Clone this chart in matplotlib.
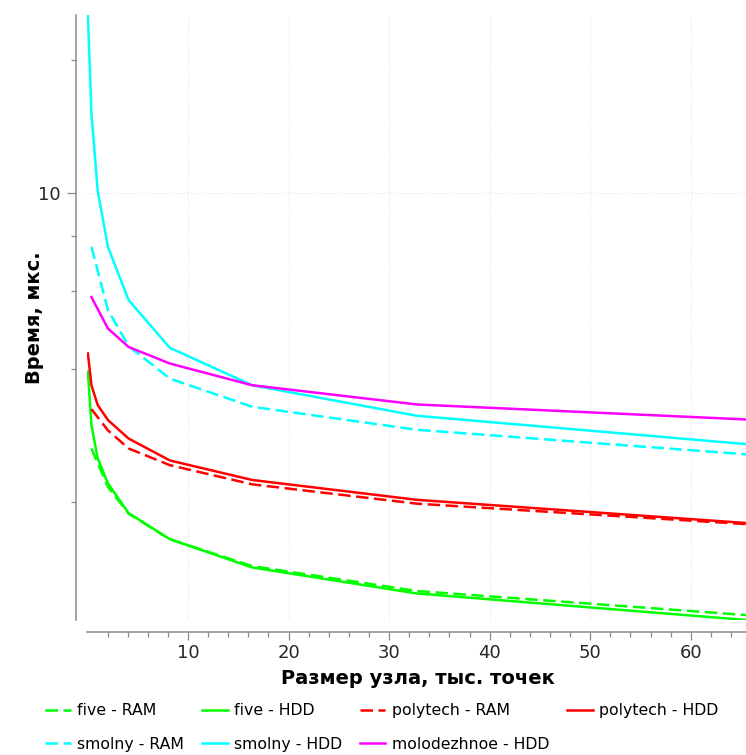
import matplotlib
matplotlib.use("Agg")
import matplotlib.pyplot as plt
from matplotlib.ticker import FixedLocator, NullFormatter, FixedFormatter

# ---- data (thousands of points vs. time in microseconds) ----
x_hdd = [0.05, 0.4, 1.024, 2.048, 4.096, 8.192, 16.384, 32.768, 65.536]
x_ram = [0.4, 2.048, 4.096, 8.192, 16.384, 32.768, 65.536]

five_ram = [2.64, 2.16, 1.88, 1.645, 1.43, 1.256, 1.108]
five_hdd = [3.94, 2.98, 2.51, 2.20, 1.885, 1.646, 1.42, 1.24, 1.08]
polytech_ram = [3.24, 2.90, 2.64, 2.42, 2.19, 1.98, 1.78]
polytech_hdd = [4.33, 3.67, 3.31, 3.06, 2.78, 2.48, 2.24, 2.02, 1.79]
smolny_ram = [7.55, 5.43, 4.50, 3.80, 3.28, 2.91, 2.56]
smolny_hdd = [25.2, 15.15, 10.1, 7.54, 5.72, 4.46, 3.67, 3.13, 2.70]
molodezhnoe_hdd = [5.81, 4.93, 4.48, 4.11, 3.67, 3.32, 3.07]

x_major = [10, 20, 30, 40, 50, 60]
x_minor = [v for v in range(2, 66, 2) if v % 10 != 0]
y_major = [10]
y_major_labels = ["10"]
y_minor = [2, 4, 6, 8, 20]

W, H = 746, 755
fig = plt.figure(figsize=(W / 100, H / 100), dpi=100)
left, right, top, bottom = 87.4, 746.5, 15, 620
ax = fig.add_axes([left / W, 1 - bottom / H, (right - left) / W, (bottom - top) / H])

LW = 1.8
DASH = (5, 2.2)
series = [
    (x_ram, five_ram, "#00ff00", True, "five - RAM"),
    (x_hdd, five_hdd, "#00ff00", False, "five - HDD"),
    (x_ram, polytech_ram, "#ff0000", True, "polytech - RAM"),
    (x_hdd, polytech_hdd, "#ff0000", False, "polytech - HDD"),
    (x_ram, smolny_ram, "#00ffff", True, "smolny - RAM"),
    (x_hdd, smolny_hdd, "#00ffff", False, "smolny - HDD"),
    (x_ram, molodezhnoe_hdd, "#ff00ff", False, "molodezhnoe - HDD"),
]
handles = {}
for xs, ys, c, dashed, lab in series:
    if dashed:
        (ln,) = ax.plot(xs, ys, color=c, lw=LW, linestyle=(0, DASH), label=lab)
    else:
        (ln,) = ax.plot(xs, ys, color=c, lw=LW, label=lab)
    handles[lab] = ln

ax.set_yscale("log")
ax.set_xlim(0, 65.536)
ax.set_ylim(1.08, 25.26)

ax.xaxis.set_major_locator(FixedLocator(x_major))
ax.xaxis.set_minor_locator(FixedLocator(x_minor))
ax.yaxis.set_major_locator(FixedLocator(y_major))
ax.yaxis.set_major_formatter(FixedFormatter(y_major_labels))
ax.yaxis.set_minor_locator(FixedLocator(y_minor))
ax.yaxis.set_minor_formatter(NullFormatter())

for s in ["top", "right"]:
    ax.spines[s].set_visible(False)
# offsets given in points (px * 0.72 at 100 dpi)
ax.spines["left"].set_position(("outward", 11 * 0.72))
ax.spines["bottom"].set_position(("outward", 12 * 0.72))
for s in ["left", "bottom"]:
    ax.spines[s].set_color("#8a8a8a")
    ax.spines[s].set_linewidth(1.1)

ax.tick_params(axis="both", which="major", length=6.5, width=0.9, color="#8a8a8a",
               labelsize=13, labelcolor="#262626")
ax.tick_params(axis="x", which="major", pad=2.5, length=6)
ax.tick_params(axis="y", which="major", pad=4.5)
ax.tick_params(axis="both", which="minor", length=3.5, width=0.9, color="#8a8a8a")

ax.grid(True, which="major", linestyle=":", color="#e2e2e2", linewidth=0.8)
ax.grid(False, which="minor")

ax.set_xlabel("Размер узла, тыс. точек", fontsize=14, fontweight="bold")
ax.set_ylabel("Время, мкс.", fontsize=14, fontweight="bold")
ax.xaxis.set_label_coords((418 - left) / (right - left), (bottom - 669) / (bottom - top))
ax.yaxis.set_label_coords((44 - left) / (right - left), (bottom - 318) / (bottom - top))

order = ["five - RAM", "smolny - RAM", "five - HDD", "smolny - HDD",
         "polytech - RAM", "molodezhnoe - HDD", "polytech - HDD"]
fig.legend([handles[k] for k in order], order, loc="upper left",
           bbox_to_anchor=(45 / W, 1 - 703 / H), ncol=4, frameon=False,
           fontsize=11.3, handlelength=1.65, handletextpad=0.4,
           columnspacing=1.12, labelspacing=1.2, borderpad=0, borderaxespad=0)

fig.savefig("out.png", dpi=100)
